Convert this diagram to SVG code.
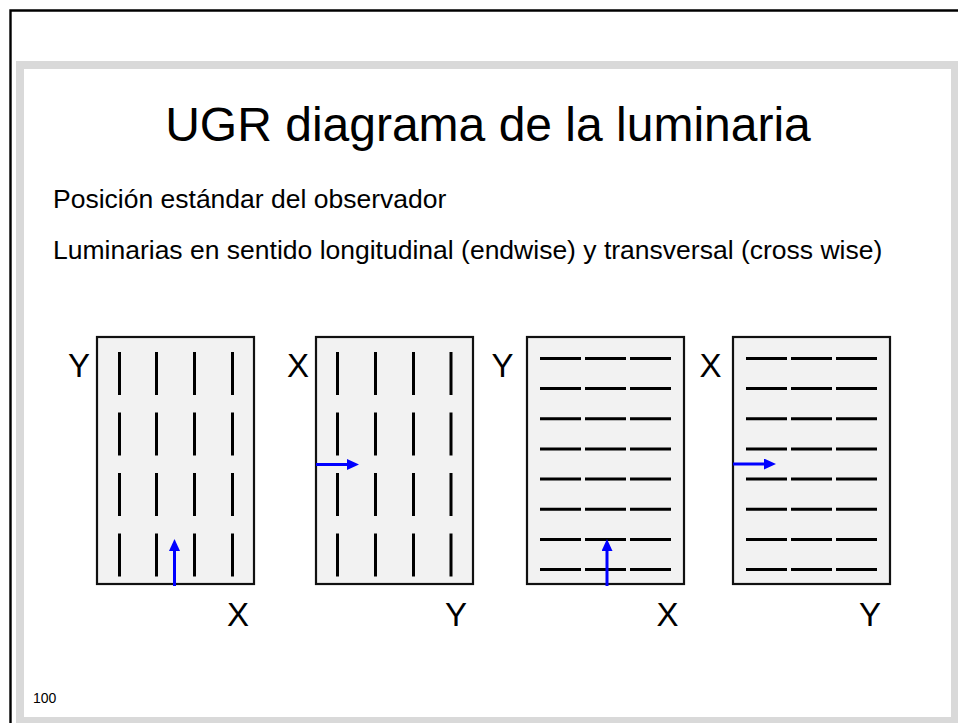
<svg xmlns="http://www.w3.org/2000/svg" width="958" height="723" viewBox="0 0 958 723">
<style>
.txt{font-family:"Liberation Sans",Arial,sans-serif;fill:#000}
.panel{fill:#f2f2f2;stroke:#111;stroke-width:2.2}
.lamp{stroke:#000;stroke-width:3;fill:none}
.lbl{font-family:"Liberation Sans",Arial,sans-serif;font-size:33px;fill:#000;text-anchor:middle}
.arr{stroke:#0000ff;stroke-width:3;fill:none;marker-end:url(#ah)}
</style>
<defs>
<marker id="ah" viewBox="0 0 12 11" refX="0" refY="5.5" markerWidth="12" markerHeight="11" markerUnits="userSpaceOnUse" orient="auto">
<path d="M0,0 L12,5.5 L0,11 z" fill="#0000ff"/>
</marker>
</defs>
<rect width="958" height="723" fill="#fff"/>
<path d="M10.5,723 V10.5 H958" fill="none" stroke="#000" stroke-width="2.4"/>
<rect x="20" y="65" width="935" height="656" fill="#fff" stroke="#d9d9d9" stroke-width="8"/>

<g id="title">
<text class="txt" x="488" y="141" font-size="48" text-anchor="middle">UGR diagrama de la luminaria</text>
</g>
<g id="subtitle1">
<text class="txt" x="53" y="207.5" font-size="26.5">Posición estándar del observador</text>
</g>
<g id="subtitle2">
<text class="txt" x="53" y="258.5" font-size="26.5">Luminarias en sentido longitudinal (endwise) y transversal (cross wise)</text>
</g>

<g id="panel1">
<rect class="panel" x="97" y="337" width="157" height="247"/>
<path class="lamp" d="M119.5,352v43M156.5,352v43M194.5,352v43M232.5,352v43
M119.5,412.5v43M156.5,412.5v43M194.5,412.5v43M232.5,412.5v43
M119.5,473v43M156.5,473v43M194.5,473v43M232.5,473v43
M119.5,533.5v43M156.5,533.5v43M194.5,533.5v43M232.5,533.5v43"/>
<text class="lbl" x="79" y="377">Y</text>
<text class="lbl" x="238" y="626">X</text>
</g>

<g id="panel2">
<rect class="panel" x="316" y="337" width="157" height="247"/>
<path class="lamp" d="M337.5,352v43M375.5,352v43M413.5,352v43M451,352v43
M337.5,412.5v43M375.5,412.5v43M413.5,412.5v43M451,412.5v43
M337.5,473v43M375.5,473v43M413.5,473v43M451,473v43
M337.5,533.5v43M375.5,533.5v43M413.5,533.5v43M451,533.5v43"/>
<text class="lbl" x="298" y="377">X</text>
<text class="lbl" x="456" y="626">Y</text>
</g>

<g id="panel3">
<rect class="panel" x="527" y="337" width="157" height="247"/>
<path class="lamp" d="M540,358.5h41M585,358.5h41M630,358.5h41
M540,388.6h41M585,388.6h41M630,388.6h41
M540,418.8h41M585,418.8h41M630,418.8h41
M540,449h41M585,449h41M630,449h41
M540,479.1h41M585,479.1h41M630,479.1h41
M540,509.3h41M585,509.3h41M630,509.3h41
M540,539.4h41M585,539.4h41M630,539.4h41
M540,569.5h41M585,569.5h41M630,569.5h41"/>
<text class="lbl" x="502.5" y="377">Y</text>
<text class="lbl" x="667.5" y="626">X</text>
</g>

<g id="panel4">
<rect class="panel" x="733" y="337" width="157" height="247"/>
<path class="lamp" d="M746,358.5h41M791,358.5h41M836,358.5h41
M746,388.6h41M791,388.6h41M836,388.6h41
M746,418.8h41M791,418.8h41M836,418.8h41
M746,449h41M791,449h41M836,449h41
M746,479.1h41M791,479.1h41M836,479.1h41
M746,509.3h41M791,509.3h41M836,509.3h41
M746,539.4h41M791,539.4h41M836,539.4h41
M746,569.5h41M791,569.5h41M836,569.5h41"/>
<text class="lbl" x="710.5" y="377">X</text>
<text class="lbl" x="870" y="626">Y</text>
</g>

<g id="connectors">
<line class="arr" x1="174.5" y1="586" x2="174.5" y2="551"/>
<line class="arr" x1="316" y1="464.5" x2="347" y2="464.5"/>
<line class="arr" x1="607" y1="586" x2="607" y2="551"/>
<line class="arr" x1="733" y1="464" x2="764" y2="464"/>
</g>

<g id="pagenum">
<text class="txt" x="33" y="703" font-size="14">100</text>
</g>
</svg>
